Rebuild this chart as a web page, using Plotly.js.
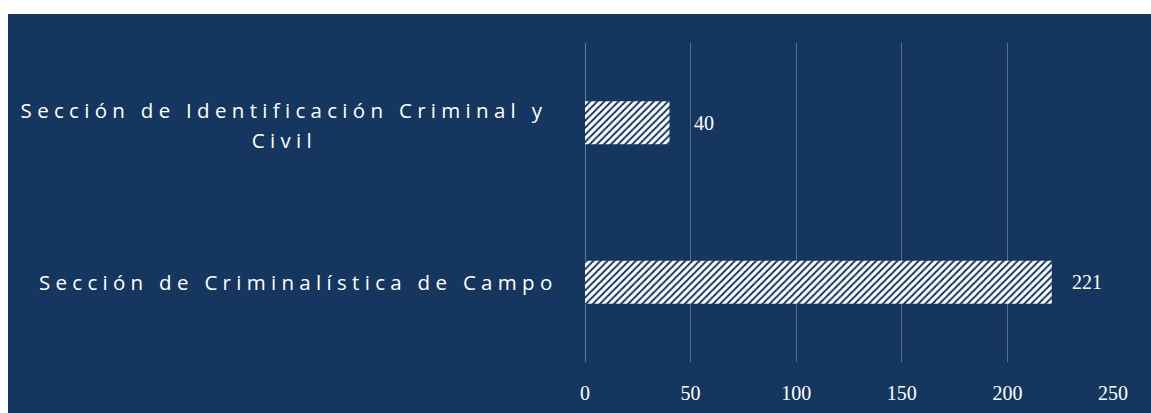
<!DOCTYPE html>
<html>
<head>
<meta charset="utf-8">
<script src="https://cdn.plot.ly/plotly-3.0.1.min.js"></script>
<style>
  html, body { margin: 0; padding: 0; background: #ffffff; }
  #chart { position: absolute; left: 8px; top: 14px; width: 1143px; height: 399px; }
  .catlabel .annotation-text { letter-spacing: 5.3px; }
</style>
</head>
<body>
<div id="chart"></div>
<script>
const categories = ["Sección de Criminalística de Campo", "Sección de Identificación Criminal y Civil"];
const categoryLines = [["Sección de Criminalística de Campo"], ["Sección de Identificación Criminal y", "Civil"]];
const values = [221, 40];
const tickValues = [0, 50, 100, 150, 200, 250];

const BG = '#15375f';

const trace = {
  type: 'bar',
  orientation: 'h',
  y: categories,
  x: values,
  width: 0.27,
  marker: {
    color: '#ffffff',
    line: { width: 0 },
    pattern: { shape: '/', fgcolor: BG, bgcolor: '#ffffff', size: 5, solidity: 0.4, fillmode: 'replace' }
  },
  hoverinfo: 'none'
};

const annotations = [];
values.forEach((v, i) => {
  annotations.push({
    x: v, y: categories[i], xref: 'x', yref: 'y',
    text: String(v), showarrow: false, xshift: 35, xanchor: 'center', yanchor: 'middle',
    font: { family: 'Liberation Serif, DejaVu Serif, serif', size: 20, color: '#ffffff' },
    bgcolor: BG, borderpad: 2
  });
});
const labelCenters = [-0.544, -0.569];
categoryLines.forEach((lines, i) => {
  const n = lines.length;
  lines.forEach((ln, j) => {
    annotations.push({
      x: labelCenters[i], xref: 'paper', y: categories[i], yref: 'y',
      text: ln, showarrow: false, xanchor: 'center', yanchor: 'middle',
      yshift: n === 1 ? 0 : (j === 0 ? 13 : -17),
      font: { family: 'Open Sans, sans-serif', size: 20.5, color: '#ffffff' }
    });
  });
});

const layout = {
  width: 1143, height: 399,
  paper_bgcolor: BG, plot_bgcolor: BG,
  margin: { l: 577, r: 38, t: 29, b: 51 },
  showlegend: false,
  bargap: 0.73,
  xaxis: {
    range: [0, 250], tickvals: tickValues, ticktext: tickValues.map(String),
    showgrid: true, gridcolor: '#56708f', gridwidth: 1,
    zeroline: true, zerolinecolor: '#4f81bd', zerolinewidth: 1,
    showline: false, ticks: 'outside', ticklen: 13, tickcolor: 'rgba(0,0,0,0)',
    tickfont: { family: 'Liberation Serif, DejaVu Serif, serif', size: 20, color: '#ffffff' },
    fixedrange: true
  },
  yaxis: {
    type: 'category', categoryorder: 'array', categoryarray: categories,
    range: [-0.5, 1.5], showticklabels: false, showgrid: false, zeroline: false, showline: false,
    fixedrange: true
  },
  annotations: annotations
};

Plotly.newPlot('chart', [trace], layout, { displayModeBar: false, staticPlot: true }).then(() => {
  document.querySelectorAll('.annotation').forEach(a => {
    const t = a.querySelector('.annotation-text');
    if (t && t.style.fontFamily && t.style.fontFamily.indexOf('Open Sans') >= 0) {
      a.classList.add('catlabel');
    }
  });
});
</script>
</body>
</html>
